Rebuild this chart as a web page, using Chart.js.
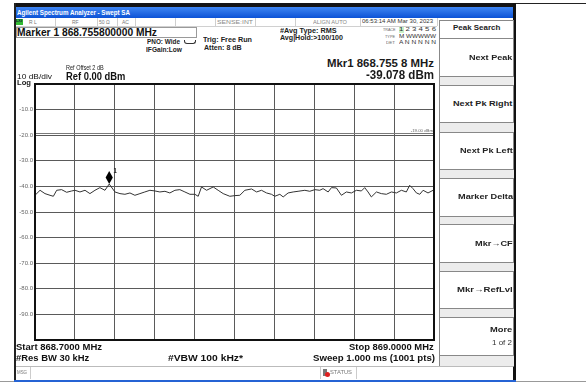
<!DOCTYPE html>
<html>
<head>
<meta charset="utf-8">
<script src="https://cdn.jsdelivr.net/npm/chart.js@4/dist/chart.umd.min.js"></script>
<style>
  html, body { margin: 0; padding: 0; background: #fff; }
  body { width: 586px; height: 383px; position: relative; overflow: hidden;
         font-family: "Liberation Sans", Arial, sans-serif; }
  .b { position: absolute; box-sizing: border-box; }
  .t { position: absolute; white-space: nowrap; transform-origin: 0 50%; }
</style>
</head>
<body>
<!-- page rules -->
<div class="b" style="left:14px;top:3px;width:572px;height:1px;background:#222"></div>
<div class="b" style="left:0;top:381px;width:586px;height:1px;background:#999"></div>

<!-- analyzer window frame -->
<div class="b" style="left:14px;top:3px;width:502px;height:4px;background:#141414"></div>
<div class="b" style="left:15.5px;top:7px;width:498px;height:10.5px;background:linear-gradient(#3f86f2,#0c52d6)"></div>
<div class="b" style="left:14px;top:3px;width:1.7px;height:378px;background:#222"></div>
<div class="b" style="left:513.3px;top:3px;width:3px;height:378px;background:#111"></div>
<div class="b" style="left:14px;top:379.5px;width:502px;height:2px;background:#2563d4"></div>

<!-- status row -->
<div class="b" style="left:15.7px;top:25.5px;width:421px;height:1px;background:#d0d0d0"></div>
<div class="b" style="left:15.7px;top:19px;width:7px;height:6px;background:#33bb33"></div>

<!-- marker readout box -->
<div class="b" style="left:15.7px;top:27.3px;width:181.5px;height:11px;border:1px solid #9a9a9a"></div>

<!-- PNO gate icon -->
<div class="b" style="left:184px;top:40px;width:12px;height:4px;border:1px solid #333;border-top:none;border-radius:0 0 3px 3px"></div>

<!-- softkey panel -->
<div class="b" style="left:439px;top:19.5px;width:74.5px;height:347px;background:#ececec;border-left:1px solid #888;border-bottom:1px solid #888"></div>
<div class="b" style="left:439px;top:19.5px;width:74.5px;height:19px;background:#fff;border:1px solid #888"></div>

<!-- message bar -->
<div class="b" style="left:15.7px;top:366px;width:497.5px;height:1px;background:#bbb"></div>
<div class="b" style="left:30px;top:367px;width:1px;height:12px;background:#ccc"></div>
<div class="b" style="left:320px;top:367px;width:1px;height:12px;background:#ccc"></div>
<div class="b" style="left:356px;top:367px;width:1px;height:12px;background:#ccc"></div>
<div class="b" style="left:323px;top:368.5px;width:4px;height:7px;background:#777"></div>
<div class="b" style="left:324.5px;top:371.5px;width:5px;height:5px;border-radius:50%;background:#e02020"></div>

<!-- plot -->
<div class="b" style="left:14px;top:78px;width:424px;height:268px;">
  <canvas id="spectrum" width="424" height="268"></canvas>
</div>

<script>
// Sweep settings
const startMHz = 868.7;
const stopMHz = 869.0;
const refLevelDbm = 0;
const bottomLevelDbm = -100;
const displayLineDbm = -19.0;

// Marker 1
const markerFreqMHz = 868.7558;
const markerLevelDbm = -39.078;

// Graticule
const xGridMHz = [868.70, 868.73, 868.76, 868.79, 868.82, 868.85, 868.88, 868.91, 868.94, 868.97, 869.00];
const yGridDb = [0, -10, -20, -30, -40, -50, -60, -70, -80, -90, -100];
const yTickLabels = ['', '-10.0', '-20.0', '-30.0', '-40.0', '-50.0', '-60.0', '-70.0', '-80.0', '-90.0', ''];

// Trace 1 (RMS average, 100/100)
const freqMHz = [
  868.7000, 868.7038, 868.7075, 868.7113, 868.7138, 868.7163, 868.7200, 868.7238, 868.7276, 868.7301,
  868.7338, 868.7376, 868.7413, 868.7451, 868.7488, 868.7526, 868.7558, 868.7601, 868.7639, 868.7676,
  868.7714, 868.7751, 868.7789, 868.7826, 868.7864, 868.7902, 868.7939, 868.7977, 868.8014, 868.8052,
  868.8089, 868.8127, 868.8165, 868.8202, 868.8227, 868.8252, 868.8290, 868.8340, 868.8377, 868.8415,
  868.8465, 868.8503, 868.8540, 868.8578, 868.8628, 868.8666, 868.8703, 868.8741, 868.8778, 868.8803,
  868.8841, 868.8866, 868.8903, 868.8941, 868.8978,
  868.9029, 868.9066, 868.9104, 868.9141, 868.9166, 868.9204, 868.9229, 868.9266, 868.9304, 868.9341,
  868.9379, 868.9417, 868.9454, 868.9479, 868.9504, 868.9529, 868.9567, 868.9604, 868.9642, 868.9680,
  868.9717, 868.9755, 868.9792, 868.9817, 868.9842, 868.9868, 868.9893, 868.9918, 868.9955, 868.9993,
  869.0000
];
const levelDbm = [
  -43.47, -41.52, -42.82, -43.47, -43.86, -41.52, -41.26, -42.30, -41.78, -41.52,
  -42.17, -41.52, -42.82, -41.52, -40.48, -41.52, -39.078, -42.17, -42.82, -43.08,
  -42.56, -43.47, -42.82, -42.17, -41.52, -41.78, -42.17, -41.91, -42.56, -41.52,
  -41.26, -42.17, -43.08, -43.08, -43.86, -40.22, -41.52, -40.22, -41.52, -42.82,
  -43.86, -43.60, -43.47, -41.52, -41.00, -42.17, -41.52, -42.56, -43.08, -43.86,
  -43.08, -44.12, -42.56, -42.17, -41.91,
  -41.52, -41.91, -41.26, -41.52, -40.87, -42.17, -40.48, -40.61, -43.47, -42.17,
  -42.56, -41.52, -41.78, -40.48, -42.17, -44.12, -42.17, -42.82, -43.08, -42.17,
  -42.56, -41.52, -42.17, -39.57, -40.87, -42.56, -43.08, -41.52, -42.56, -41.52,
  -41.80
];

// Softkey menu
const softkeys = [
  { label: 'Next Peak',     top: 38.3,  bottom: 77.3 },
  { label: 'Next Pk Right', top: 85,    bottom: 123 },
  { label: 'Next Pk Left',  top: 131.7, bottom: 170 },
  { label: 'Marker Delta',  top: 177.7, bottom: 216.7 },
  { label: 'Mkr\u2192CF',   top: 224.3, bottom: 262.7 },
  { label: 'Mkr\u2192RefLvl', top: 270.7, bottom: 309.3 },
  { label: 'More',          top: 316.7, bottom: 355.7 }
];

// Places a text line with its left (or right) edge at x, vertically centred on cy,
// optionally squeezed horizontally to a given width.
function put(text, x, cy, size, width, o) {
  o = o || {};
  const el = document.createElement('div');
  el.className = 't';
  el.textContent = text;
  el.style.fontSize = size + 'px';
  el.style.lineHeight = size + 'px';
  el.style.fontWeight = o.bold ? 'bold' : 'normal';
  el.style.color = o.color || '#111';
  el.style.top = (cy - size / 2) + 'px';
  document.body.appendChild(el);
  const nat = el.getBoundingClientRect().width;
  const s = width ? width / nat : 1;
  el.style.left = (o.right ? x - nat * s : x) + 'px';
  el.style.transform = 'scaleX(' + s + ')';
  return el;
}
function box(x, y, w, h, css) {
  const d = document.createElement('div');
  d.className = 'b';
  d.style.cssText += 'left:' + x + 'px;top:' + y + 'px;width:' + w + 'px;height:' + h + 'px;' + (css || '');
  document.body.appendChild(d);
}

// Title bar
put('Agilent Spectrum Analyzer - Swept SA', 16.7, 12.6, 7, 113, { bold: true, color: '#fff' });

// Status row
[55, 97, 117, 135, 175, 215, 255, 295, 360, 437].forEach(x => box(x, 18, 1, 7.5, 'background:#cfcfcf'));
put('LXI', 16.2, 22, 3.6, 6, { bold: true, color: '#113' });
put('R L', 29, 22, 5, 0, { color: '#777' });
put('RF', 72, 22, 5, 0, { color: '#777' });
put('50 \u03A9', 99, 22, 5, 0, { color: '#777' });
put('AC', 122, 22, 5, 0, { color: '#777' });
put('SENSE:INT', 217, 22, 5, 36, { color: '#888' });
put('ALIGN AUTO', 313, 22, 5, 34, { color: '#888' });
put('06:53:14 AM Mar 30, 2023', 362, 22, 5.4, 71, { color: '#333' });

// Marker readout and acquisition settings
put('Marker 1 868.755800000 MHz', 16.5, 32.8, 11, 140, { bold: true });
put('PNO: Wide', 146.7, 42.3, 6.3, 33, { bold: true, color: '#222' });
put('IFGain:Low', 145.7, 50, 6.3, 36, { bold: true, color: '#222' });
put('Trig: Free Run', 202.7, 39.3, 7.2, 49, { bold: true, color: '#222' });
put('Atten: 8 dB', 204, 48.3, 6.8, 37.7, { bold: true, color: '#222' });
put('#Avg Type: RMS', 280, 31, 7.2, 56.7, { bold: true, color: '#222' });
put('Avg|Hold:>100/100', 280, 37.8, 7.2, 63, { bold: true, color: '#222' });

// Trace status table
box(398.5, 27.2, 5, 5.6, 'background:#c8f0c8');
put('TRACE', 395, 30, 4, 12.5, { right: true, color: '#666' });
put('1 2 3 4 5 6', 399, 30, 5.2, 37, { color: '#333' });
put('TYPE', 395, 36.5, 4, 10, { right: true, color: '#666' });
put('M WWWWW', 399, 36.5, 5.2, 37, { color: '#333' });
put('DET', 395, 43, 4, 9, { right: true, color: '#666' });
put('A N N N N N', 399, 43, 5.2, 37, { color: '#333' });

// Active marker readout
put('Mkr1 868.755 8 MHz', 434, 63.3, 11.5, 107, { right: true, bold: true, color: '#1a1a1a' });
put('-39.078 dBm', 434, 75, 12, 68, { right: true, bold: true, color: '#1a1a1a' });

// Reference level annotation
put('Ref Offset 2 dB', 65.7, 68.3, 8, 37.7, { color: '#222' });
put('10 dB/div', 16.7, 77.3, 8, 35, { color: '#111' });
put('Ref 0.00 dBm', 65.7, 76.8, 10, 59.3, { bold: true });
put('Log', 16.7, 82.6, 8, 14, { bold: true, color: '#222' });

// Bottom annotation
put('Start 868.7000 MHz', 16, 347.7, 9, 86, { bold: true });
put('#Res BW 30 kHz', 16, 358.3, 9, 73.3, { bold: true });
put('#VBW 100 kHz*', 168.3, 358.3, 9, 75, { bold: true });
put('Stop 869.0000 MHz', 434, 347.7, 9, 84.7, { bold: true, right: true });
put('Sweep  1.000 ms (1001 pts)', 435, 358.3, 9, 122, { bold: true, right: true });
put('MSG', 16.5, 373, 4.5, 10, { color: '#777' });
put('STATUS', 330, 373, 4.5, 22, { color: '#777' });

// Softkeys
put('Peak Search', 452.7, 28.3, 7.8, 47.3, { bold: true, color: '#222' });
const keyWidths = [43.3, 59.3, 52.7, 55, 37.7, 55.7, 22.3];
softkeys.forEach((k, i) => {
  box(439, k.top, 74.5, k.bottom - k.top, 'background:#fff;border:1px solid #888;');
  const cy = k.label === 'More' ? 330 : (k.top + k.bottom) / 2;
  put(k.label, 512.5, cy, 8, keyWidths[i], { bold: true, right: true, color: '#222' });
});
put('1 of 2', 512.3, 343.3, 6.8, 20, { right: true, color: '#333' });

// Display line, graticule frame and marker
const overlay = {
  id: 'overlay',
  beforeDatasetsDraw(chart) {
    const { ctx, chartArea: a, scales: { y } } = chart;
    const py = Math.round(y.getPixelForValue(displayLineDbm)) + 0.5;
    ctx.save();
    ctx.strokeStyle = '#7a7a7a';
    ctx.lineWidth = 1;
    ctx.beginPath();
    ctx.moveTo(a.left, py);
    ctx.lineTo(a.right, py);
    ctx.stroke();
    ctx.fillStyle = '#666';
    ctx.font = '4.3px "Liberation Sans", Arial, sans-serif';
    ctx.textAlign = 'right';
    ctx.textBaseline = 'bottom';
    ctx.fillText(displayLineDbm.toFixed(2) + ' dBm', a.right - 1, py - 1);
    ctx.restore();
  },
  afterDatasetsDraw(chart) {
    const { ctx, chartArea: a, scales: { x, y } } = chart;
    ctx.save();
    ctx.strokeStyle = '#111';
    ctx.lineWidth = 2;
    ctx.strokeRect(a.left, a.top, a.right - a.left, a.bottom - a.top);
    const mx = x.getPixelForValue(markerFreqMHz);
    const my = y.getPixelForValue(markerLevelDbm);
    ctx.fillStyle = '#000';
    ctx.beginPath();
    ctx.moveTo(mx, my);
    ctx.lineTo(mx + 3.6, my - 6.5);
    ctx.lineTo(mx, my - 13);
    ctx.lineTo(mx - 3.6, my - 6.5);
    ctx.closePath();
    ctx.fill();
    ctx.font = '7px "Liberation Sans", Arial, sans-serif';
    ctx.textAlign = 'left';
    ctx.textBaseline = 'middle';
    ctx.fillText('1', mx + 4, my - 12.5);
    ctx.restore();
  }
};

new Chart(document.getElementById('spectrum'), {
  type: 'line',
  data: {
    datasets: [{
      data: freqMHz.map((f, i) => ({ x: f, y: levelDbm[i] })),
      borderColor: '#333',
      borderWidth: 1,
      pointRadius: 0,
      tension: 0,
      fill: false
    }]
  },
  options: {
    responsive: false,
    animation: false,
    devicePixelRatio: 1,
    layout: { padding: { top: 6, right: 4, bottom: 6, left: 0 } },
    plugins: { legend: { display: false }, tooltip: { enabled: false } },
    scales: {
      x: {
        type: 'linear',
        min: startMHz,
        max: stopMHz,
        afterBuildTicks: s => { s.ticks = xGridMHz.map(v => ({ value: v })); },
        afterFit: s => { s.height = 0; },
        ticks: { display: false },
        grid: { color: '#5a5a5a', lineWidth: 1, drawTicks: false },
        border: { display: false }
      },
      y: {
        type: 'linear',
        min: bottomLevelDbm,
        max: refLevelDbm,
        afterBuildTicks: s => { s.ticks = yGridDb.map(v => ({ value: v })); },
        afterFit: s => { s.width = 21; },
        ticks: {
          color: '#666',
          padding: 2,
          font: { size: 6, family: '"Liberation Sans", Arial, sans-serif' },
          callback: v => { const i = yGridDb.indexOf(v); return i >= 0 ? yTickLabels[i] : ''; }
        },
        grid: { color: '#5a5a5a', lineWidth: 1, drawTicks: false },
        border: { display: false }
      }
    }
  },
  plugins: [overlay]
});
</script>
</body>
</html>
